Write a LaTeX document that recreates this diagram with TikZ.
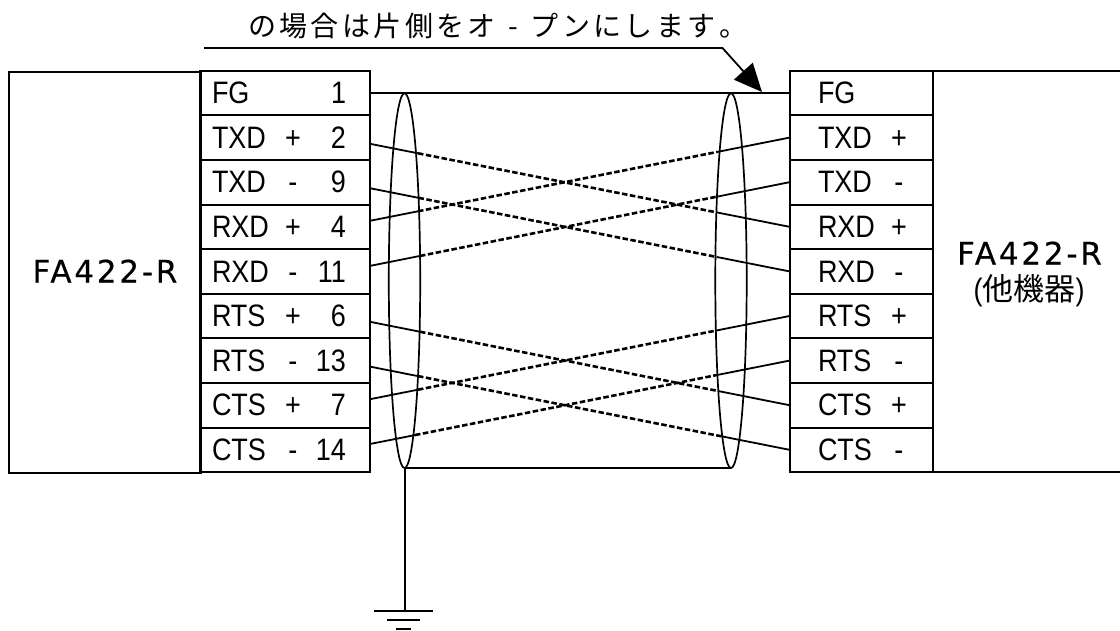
\documentclass[tikz,border=0pt]{standalone}
\usepackage{fontspec}
\usetikzlibrary{arrows.meta}
\setmainfont{Liberation Sans}
\newfontfamily\lblfont[FakeStretch=0.87]{Liberation Sans}
\newfontfamily\cjk{Noto Sans CJK JP}
\newfontfamily\titlefont[LetterSpace=9,FakeBold=0.4]{DejaVu Sans}
\def\tch#1{\makebox[31.4pt][c]{#1}}
\def\lrow#1#2#3{\hspace*{12pt}\makebox[64pt][l]{#1}\makebox[34pt][c]{#2}\makebox[36pt][r]{#3}\hspace*{24pt}}
\def\rrow#1#2{\hspace*{28.5pt}\makebox[62pt][l]{#1}\makebox[38pt][c]{#2}\hspace*{14.5pt}}
\tikzset{
  wire/.style={line width=1.8pt,black},
  outline/.style={line width=2pt,black},
  box/.style={draw,outline,minimum height=44.6pt,inner sep=0pt,outer sep=0pt,anchor=north west,font=\lblfont\fontsize{31}{31}\selectfont},
  lcell/.style={box,minimum width=170pt},
  rcell/.style={box,minimum width=143pt},
  dash wire/.style={line width=2.6pt,dash pattern=on 5.5pt off 2.5pt},
  shield/.style={line width=1.7pt},
}
\begin{document}
\begin{tikzpicture}[x=1pt,y=-1pt]
\useasboundingbox (0,0) rectangle (1120,630);
\fill[white] (0,0) rectangle (1120,630);
% main boxes
\node[draw,outline,inner sep=0pt,minimum width=192pt,minimum height=401.4pt,anchor=north west] (LB) at (8,70.7) {};
\draw[outline] (932.5,70.7) -- (1120,70.7) (932.5,472.1) -- (1120,472.1);
\node[font=\fontsize{31}{31}\selectfont\titlefont] (LT) at (105,271) {FA422-R};
\node[font=\fontsize{31}{31}\selectfont\titlefont] (RT) at (1029.5,253) {FA422-R};
\node[font=\fontsize{31}{31}\selectfont\lblfont] (RS) at (1029,291) {(\cjk 他機器\lblfont)};
% left cells
\foreach \n/\a/\b/\c [count=\i from 0] in {1/FG//1,2/TXD/+/2,3/TXD/-/9,4/RXD/+/4,5/RXD/-/11,6/RTS/+/6,7/RTS/-/13,8/CTS/+/7,9/CTS/-/14}{
  \node[lcell] (L\n) at (200,70.7+44.6*\i) {\lrow{\a}{\b}{\c}};
}
\foreach \n/\a/\b [count=\i from 0] in {1/FG/,2/TXD/+,3/TXD/-,4/RXD/+,5/RXD/-,6/RTS/+,7/RTS/-,8/CTS/+,9/CTS/-}{
  \node[rcell] (R\n) at (789.5,70.7+44.6*\i) {\rrow{\a}{\b}};
}
% shield coordinates
\coordinate (S1) at (404.5,280.65);
\coordinate (S2) at (731,280.65);
\coordinate (S1b) at (405,468);
\coordinate (S2b) at (731,468);
\coordinate (G) at (405,611);
% FG line
\draw[wire] (L1.east) -- (R1.west);
% twisted pairs
\foreach \a/\oa/\b/\xa/\xb in {
 2/-6.2/4/418/717,
 3/-6/5/418.5/717,
 4/6/2/418/717,
 5/5.5/3/420/717,
 6/-5.8/8/420/718,
 7/-6/9/418/722,
 8/6/6/418/716,
 9/5.8/7/415/716}{
  \coordinate (A) at ([yshift=\oa pt]L\a.east);
  \coordinate (B) at (R\b.west);
  \path (A) -- (B) coordinate[pos={(\xa-370)/419.5}] (P) coordinate[pos={(\xb-370)/419.5}] (Q);
  \draw[wire] (A) -- (P);
  \draw[dash wire] (P) -- (Q);
  \draw[wire] (Q) -- (B);
}
% shield ellipses
\draw[shield] (S1) ellipse [x radius=15.7pt,y radius=187.4pt];
\draw[shield] (S2) ellipse [x radius=15.7pt,y radius=187.4pt];
\draw[wire] (S1b) -- (S2b);
% ground
\draw[line width=2pt] (S1b) -- (G);
\draw[wire] (374,611) -- (433,611) (387,620) -- (420,620) (396,629) -- (411,629);
% note
\node[anchor=west,inner sep=0pt,font=\cjk\fontsize{28}{28}\selectfont] (N) at (246.3,26) {\tch{の}\tch{場}\tch{合}\tch{は}\tch{片}\tch{側}\tch{を}\tch{オ}\tch{-}\tch{プ}\tch{ン}\tch{に}\tch{し}\tch{ま}\tch{す}\tch{。}};
\coordinate (N1) at (204,48);
\coordinate (N2) at (722.5,48);
\coordinate (N3) at (762,92);
\draw[wire,-{Triangle[length=28pt,width=25pt]}] (N1) -- (N2) -- (N3);
\end{tikzpicture}
\end{document}
